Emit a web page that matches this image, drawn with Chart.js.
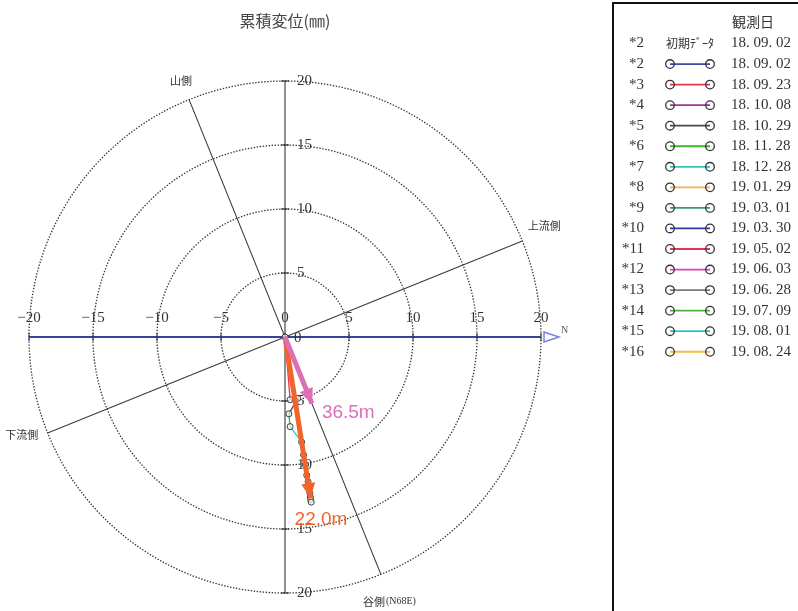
<!DOCTYPE html>
<html>
<head>
<meta charset="utf-8">
<script src="https://cdn.jsdelivr.net/npm/chart.js@4/dist/chart.umd.min.js"></script>
<style>
  html, body { margin: 0; padding: 0; background: #fff; }
  #wrap { width: 798px; height: 611px; position: relative; }
  canvas { display: block; }
</style>
</head>
<body>
<div id="wrap"><canvas id="c" width="798" height="611"></canvas></div>
<script>
// Observation numbers and dates (legend rows after the initial-data row)
const obsNumbers = ['*2', '*3', '*4', '*5', '*6', '*7', '*8', '*9', '*10', '*11', '*12', '*13', '*14', '*15', '*16'];
const obsDates = ['18. 09. 02', '18. 09. 23', '18. 10. 08', '18. 10. 29', '18. 11. 28', '18. 12. 28', '19. 01. 29',
                  '19. 03. 01', '19. 03. 30', '19. 05. 02', '19. 06. 03', '19. 06. 28', '19. 07. 09', '19. 08. 01', '19. 08. 24'];
const obsColors = ['#3c4aa8', '#e8344e', '#a0309c', '#4a4a4a', '#3db52c', '#2ec4c4', '#f0b24a',
                   '#3a9a6c', '#2e3aa8', '#e8344e', '#e040b8', '#7a7a7a', '#4fb43e', '#2ec4c4', '#f2c040'];
const initialLabel = ['*2', '初期ﾃﾞｰﾀ', '18. 09. 02'];

// Cumulative displacement (mm) per observation, x = N direction, y = perpendicular
const dispX = [0, 0.4, 1.0, 0.3, 0.4, 1.3, 1.45, 1.6, 1.7, 1.8, 1.87, 1.94, 1.98, 2.0, 2.05];
const dispY = [0, -4.9, -4.8, -6.0, -7.0, -8.2, -9.2, -10.0, -10.8, -11.3, -11.8, -12.2, -12.5, -12.7, -12.9];

// Resultant displacement vectors at two depths
const vecLabels = ['36.5m', '22.0m'];
const vecX = [2.1, 2.0];
const vecY = [-5.2, -12.6];
const vecColors = ['#dc6fb6', '#f2642a'];

// Axis ticks and rings
const axisTicks = [-20, -15, -10, -5, 0, 5, 10, 15, 20];
const ringRadii = [5, 10, 15, 20];
const bearingDeg = 68; // valley-side bearing N68E measured from the N axis

const serif = '"Liberation Serif", "DejaVu Serif", serif';
const cjk = '"Noto Sans CJK JP", sans-serif';

const pathPoints = dispX.map((x, i) => ({ x, y: dispY[i] }));

function px(chart, x) { return chart.scales.x.getPixelForValue(x); }
function py(chart, y) { return chart.scales.y.getPixelForValue(y); }

const polarGrid = {
  id: 'polarGrid',
  beforeDatasetsDraw(chart) {
    const ctx = chart.ctx;
    const cx = px(chart, 0), cy = py(chart, 0);
    const unit = px(chart, 1) - cx;
    ctx.save();

    // title
    ctx.fillStyle = '#444';
    ctx.font = '16px ' + cjk;
    ctx.textAlign = 'center';
    ctx.textBaseline = 'middle';
    ctx.fillText('累積変位(㎜)', cx, 21);

    // dotted rings
    ctx.strokeStyle = '#333';
    ctx.lineWidth = 1.3;
    ctx.setLineDash([1.4, 1.6]);
    ringRadii.forEach(r => {
      ctx.beginPath();
      ctx.arc(cx, cy, r * unit, 0, Math.PI * 2);
      ctx.stroke();
    });
    ctx.setLineDash([]);

    // bearing lines (valley/mountain and upstream/downstream)
    const R = 20;
    const a = bearingDeg * Math.PI / 180;
    const dx = Math.cos(a) * R, dy = -Math.sin(a) * R;
    ctx.strokeStyle = '#3a3a3a';
    ctx.lineWidth = 1.1;
    ctx.beginPath();
    ctx.moveTo(px(chart, -dx), py(chart, -dy));
    ctx.lineTo(px(chart, dx), py(chart, dy));
    ctx.moveTo(px(chart, dy), py(chart, -dx));
    ctx.lineTo(px(chart, -dy), py(chart, dx));
    ctx.stroke();

    // vertical axis
    ctx.strokeStyle = '#222';
    ctx.lineWidth = 1;
    ctx.beginPath();
    ctx.moveTo(cx, py(chart, 20));
    ctx.lineTo(cx, py(chart, -20));
    ctx.stroke();
    axisTicks.forEach(v => {
      if (v === 0) return;
      const y = py(chart, v);
      ctx.beginPath();
      ctx.moveTo(cx - 4, y);
      ctx.lineTo(cx + 4, y);
      ctx.stroke();
    });

    // horizontal (N) axis
    const xl = px(chart, -20), xr = px(chart, 20);
    ctx.strokeStyle = '#34449a';
    ctx.lineWidth = 2;
    ctx.beginPath();
    ctx.moveTo(xl, cy);
    ctx.lineTo(xr, cy);
    ctx.stroke();
    ctx.strokeStyle = '#333';
    ctx.lineWidth = 1;
    axisTicks.forEach(v => {
      const x = px(chart, v);
      ctx.beginPath();
      ctx.moveTo(x, cy - 4);
      ctx.lineTo(x, cy + 4);
      ctx.stroke();
    });
    // open arrow head and N
    ctx.strokeStyle = '#7b80e0';
    ctx.lineWidth = 1.5;
    ctx.beginPath();
    ctx.moveTo(xr + 3, cy - 5);
    ctx.lineTo(xr + 18, cy);
    ctx.lineTo(xr + 3, cy + 5);
    ctx.closePath();
    ctx.stroke();
    ctx.fillStyle = '#555';
    ctx.font = '10px ' + serif;
    ctx.textAlign = 'left';
    ctx.fillText('N', xr + 20, cy - 7);

    // tick labels
    ctx.fillStyle = '#333';
    ctx.font = '15px ' + serif;
    ctx.textAlign = 'center';
    ctx.textBaseline = 'middle';
    axisTicks.forEach(v => {
      ctx.fillText(v < 0 ? '\u2212' + Math.abs(v) : String(v), px(chart, v), cy - 19);
    });
    ctx.textAlign = 'left';
    axisTicks.forEach(v => {
      ctx.fillText(String(Math.abs(v)), cx + (v === 0 ? 9 : 12), py(chart, v) + (v === 0 ? 1 : 0));
    });

    // side labels
    ctx.fillStyle = '#333';
    ctx.font = '11px ' + cjk;
    ctx.textAlign = 'center';
    ctx.fillText('山側', px(chart, -dx) - 8, py(chart, -dy) - 19);
    ctx.fillText('上流側', px(chart, -dy) + 22, py(chart, dx) - 15);
    ctx.fillText('下流側', px(chart, dy) - 26, py(chart, -dx) + 2);
    ctx.textAlign = 'left';
    const vx = px(chart, dx) - 18, vy = py(chart, dy) + 27;
    ctx.fillText('谷側', vx, vy);
    const w = ctx.measureText('谷側').width;
    ctx.font = '10px ' + serif;
    ctx.fillText('(N68E)', vx + w + 1, vy);

    ctx.restore();
  }
};

const overlay = {
  id: 'overlay',
  afterDatasetsDraw(chart) {
    const ctx = chart.ctx;
    ctx.save();
    // arrow heads and depth labels
    vecX.forEach((vx, i) => {
      const x0 = px(chart, 0), y0 = py(chart, 0);
      const x1 = px(chart, vx), y1 = py(chart, vecY[i]);
      const ang = Math.atan2(y1 - y0, x1 - x0);
      const L = 15, H = 7;
      ctx.fillStyle = vecColors[i];
      ctx.beginPath();
      ctx.moveTo(x1, y1);
      ctx.lineTo(x1 - L * Math.cos(ang) + H * Math.sin(ang), y1 - L * Math.sin(ang) - H * Math.cos(ang));
      ctx.lineTo(x1 - L * Math.cos(ang) - H * Math.sin(ang), y1 - L * Math.sin(ang) + H * Math.cos(ang));
      ctx.closePath();
      ctx.fill();
    });
    ctx.font = '19px "Liberation Sans", Arial, sans-serif';
    ctx.textBaseline = 'middle';
    ctx.textAlign = 'left';
    ctx.fillStyle = vecColors[0];
    ctx.fillText(vecLabels[0], px(chart, vecX[0]) + 10, py(chart, vecY[0]) + 9);
    ctx.fillStyle = vecColors[1];
    ctx.fillText(vecLabels[1], px(chart, vecX[1]) - 16, py(chart, vecY[1]) + 21);
    ctx.restore();
  },
  afterDraw(chart) {
    const ctx = chart.ctx;
    ctx.save();
    // legend frame
    ctx.strokeStyle = '#111';
    ctx.lineWidth = 2;
    ctx.strokeRect(613, 3, 200, 640);

    ctx.fillStyle = '#333';
    ctx.textBaseline = 'middle';
    ctx.font = '14px ' + cjk;
    ctx.textAlign = 'left';
    ctx.fillText('観測日', 732, 22);

    const row0 = 43.5, step = 20.55;
    ctx.font = '15px ' + serif;
    ctx.textAlign = 'right';
    ctx.fillText(initialLabel[0], 644, row0);
    ctx.textAlign = 'left';
    ctx.fillText(initialLabel[2], 731, row0);
    ctx.font = '12px ' + cjk;
    ctx.fillText(initialLabel[1], 666, row0, 60);

    obsNumbers.forEach((n, i) => {
      const y = row0 + step * (i + 1);
      ctx.fillStyle = '#333';
      ctx.font = '15px ' + serif;
      ctx.textAlign = 'right';
      ctx.fillText(n, 644, y);
      ctx.textAlign = 'left';
      ctx.fillText(obsDates[i], 731, y);
      ctx.strokeStyle = obsColors[i];
      ctx.lineWidth = 1.8;
      ctx.beginPath();
      ctx.moveTo(670, y);
      ctx.lineTo(710, y);
      ctx.stroke();
      ctx.strokeStyle = '#333';
      ctx.lineWidth = 1.3;
      [670, 710].forEach(x => {
        ctx.beginPath();
        ctx.arc(x, y, 4.3, 0, Math.PI * 2);
        ctx.stroke();
      });
    });
    ctx.restore();
  }
};

new Chart(document.getElementById('c'), {
  type: 'scatter',
  data: {
    datasets: [
      {
        label: vecLabels[0],
        data: [{ x: 0, y: 0 }, { x: vecX[0], y: vecY[0] }],
        showLine: true, borderColor: vecColors[0], borderWidth: 5, pointRadius: 0, order: 0
      },
      {
        label: vecLabels[1],
        data: [{ x: 0, y: 0 }, { x: vecX[1], y: vecY[1] }],
        showLine: true, borderColor: vecColors[1], borderWidth: 5, pointRadius: 0, order: 1
      },
      {
        label: 'displacement',
        data: pathPoints,
        showLine: true,
        borderWidth: 1.3,
        borderColor: obsColors[0],
        segment: { borderColor: c => obsColors[c.p1DataIndex] },
        pointRadius: 3,
        pointBackgroundColor: 'rgba(255,255,255,0.6)',
        pointBorderColor: '#3a3a3a',
        pointBorderWidth: 1,
        order: 2
      }
    ]
  },
  options: {
    responsive: false,
    animation: false,
    events: [],
    layout: { padding: { left: 29, right: 257, top: 81, bottom: 18 } },
    scales: {
      x: { type: 'linear', min: -20, max: 20, display: false },
      y: { type: 'linear', min: -20, max: 20, display: false }
    },
    plugins: { legend: { display: false }, tooltip: { enabled: false } }
  },
  plugins: [polarGrid, overlay]
});
</script>
</body>
</html>
